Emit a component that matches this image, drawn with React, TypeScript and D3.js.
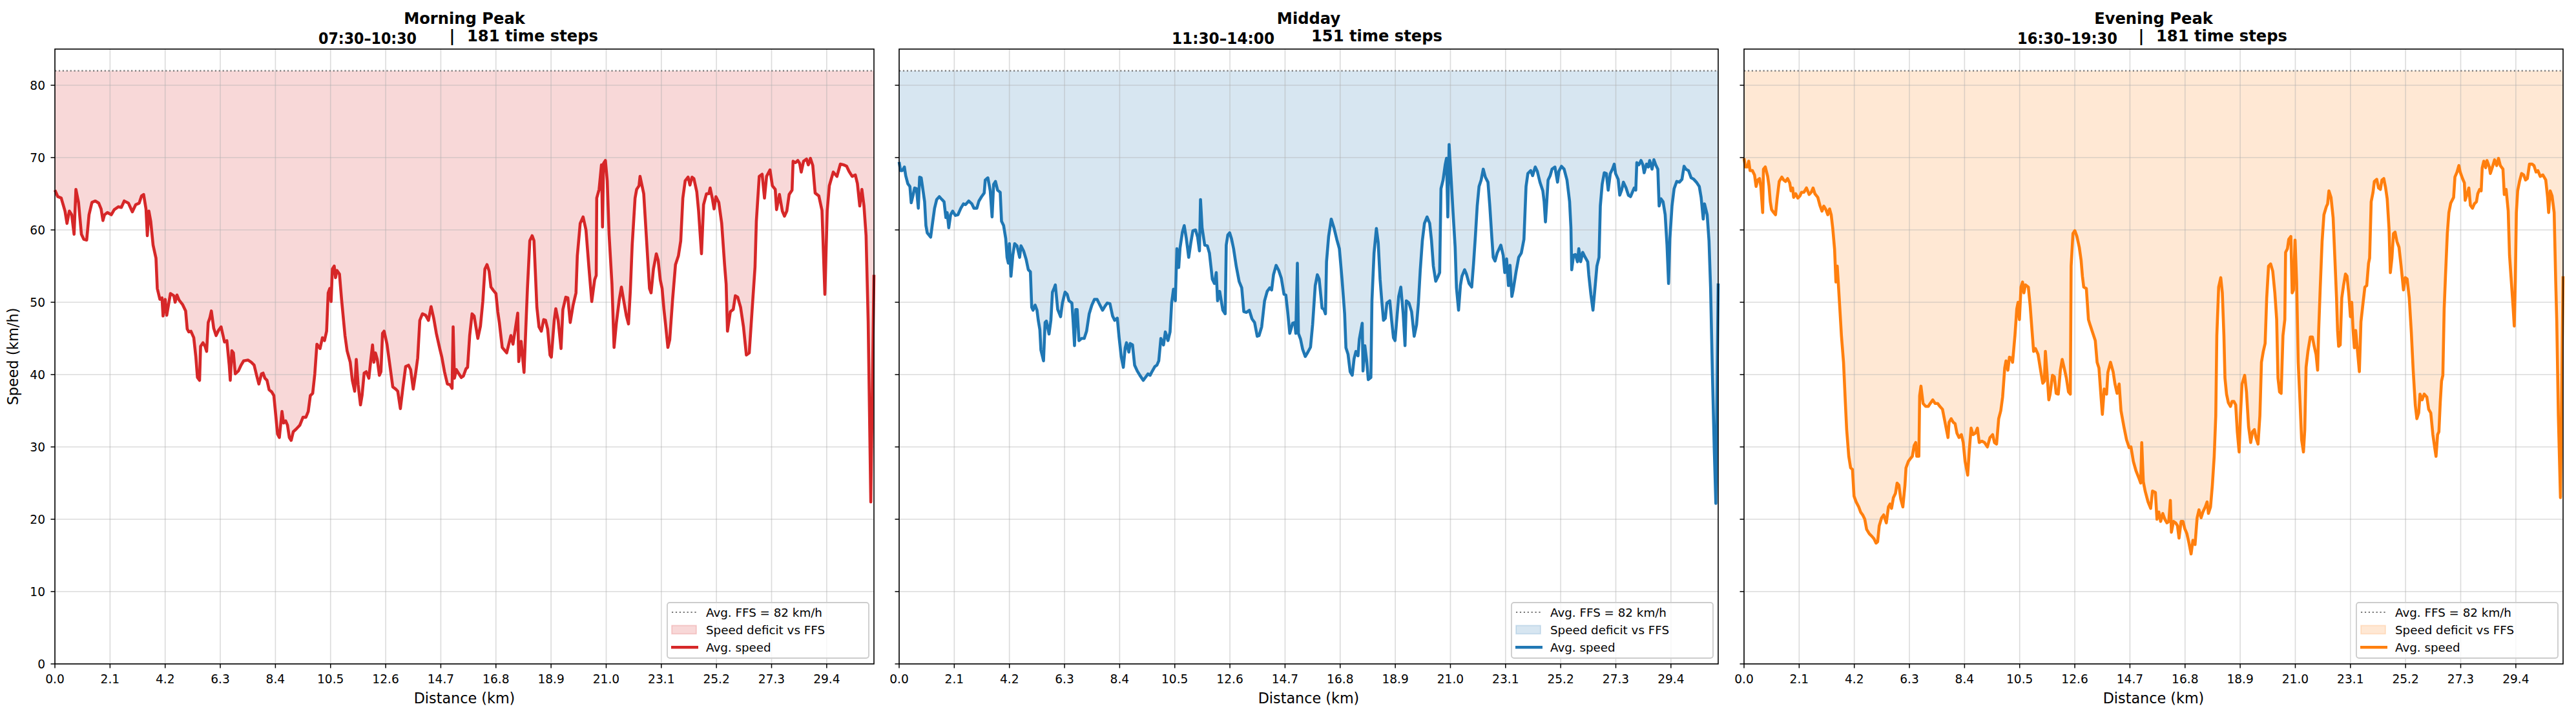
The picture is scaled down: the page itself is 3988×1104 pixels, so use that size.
import React from 'react';
import * as d3 from 'd3';

// speed profiles along the corridor: [distance km, avg speed km/h]
const morning: [number, number][] = [
  [0, 65.5], [0.11, 64.6], [0.24, 64.4], [0.385, 62.6], [0.46, 60.9], [0.55, 62.6], [0.64, 62.1], [0.73, 59.4], [0.8, 65.6], [0.9, 63.8],
  [1.01, 59.4], [1.1, 58.7], [1.21, 58.6], [1.3, 62.1], [1.41, 63.8], [1.54, 64.0], [1.67, 63.7], [1.76, 62.9], [1.83, 61.3], [1.89, 62.1],
  [2.0, 62.4], [2.15, 62.1], [2.26, 62.8], [2.42, 63.2], [2.53, 63.1], [2.64, 64.0], [2.8, 63.7], [2.95, 62.5], [3.08, 63.5], [3.21, 63.7],
  [3.3, 64.7], [3.38, 64.9], [3.47, 62.9], [3.52, 59.2], [3.58, 62.6], [3.65, 61.2], [3.74, 57.9], [3.85, 56.1], [3.9, 51.9], [4.0, 50.4],
  [4.08, 50.6], [4.12, 48.1], [4.2, 50.4], [4.26, 48.2], [4.4, 51.2], [4.53, 50.9], [4.58, 50], [4.65, 51], [4.73, 50.3], [4.86, 49.7],
  [4.98, 48.8], [5.04, 46.3], [5.1, 45.9], [5.18, 46], [5.29, 45.1], [5.37, 42.4], [5.43, 39.6], [5.51, 39.2], [5.55, 43.9], [5.64, 44.4],
  [5.72, 43.9], [5.78, 43.2], [5.84, 47.2], [5.9, 47.8], [5.96, 48.8], [6.05, 46.4], [6.14, 45.4], [6.23, 46.1], [6.33, 46.6], [6.46, 44.5],
  [6.55, 44.7], [6.64, 41.3], [6.68, 39.2], [6.74, 43.3], [6.8, 43], [6.87, 40.1], [6.99, 40.5], [7.09, 41.3], [7.19, 41.9], [7.36, 42],
  [7.48, 41.7], [7.59, 41.3], [7.69, 39.8], [7.77, 38.7], [7.87, 40.1], [7.93, 40.2], [8.0, 39.5], [8.08, 39.2], [8.16, 37.9], [8.26, 37.6],
  [8.34, 37.1], [8.42, 34.1], [8.48, 31.8], [8.55, 31.3], [8.65, 34.9], [8.71, 33.3], [8.79, 33.6], [8.86, 33], [8.93, 31.3], [9.0, 30.9],
  [9.08, 32.1], [9.2, 32.5], [9.33, 33], [9.45, 34.1], [9.56, 34.1], [9.65, 34.9], [9.73, 37.1], [9.82, 37.4], [9.9, 40.1], [9.98, 44.2],
  [10.1, 43.6], [10.19, 45.1], [10.27, 44.7], [10.35, 46], [10.41, 51.3], [10.47, 51.9], [10.52, 50.1], [10.57, 54.6], [10.64, 55], [10.69, 53.4],
  [10.74, 54.4], [10.84, 53.9], [10.92, 50.4], [11.05, 45.4], [11.13, 43.3], [11.25, 41.7], [11.33, 39.2], [11.42, 37.7], [11.48, 42.1], [11.55, 38.6],
  [11.64, 35.8], [11.7, 37.1], [11.78, 40.2], [11.86, 40.4], [11.96, 39.5], [12.03, 41.9], [12.1, 44.1], [12.15, 41.7], [12.21, 43], [12.28, 42.1],
  [12.36, 39.9], [12.42, 40.4], [12.48, 45.7], [12.54, 46], [12.65, 44.2], [12.77, 41], [12.87, 38.3], [12.98, 38], [13.06, 37.7], [13.16, 35.3],
  [13.26, 38.3], [13.36, 41.1], [13.47, 41.3], [13.55, 40.7], [13.65, 38], [13.75, 40.4], [13.82, 42.3], [13.9, 47.5], [14.0, 48.4], [14.12, 48.2],
  [14.23, 47.5], [14.33, 49.4], [14.43, 47.8], [14.53, 45.7], [14.66, 43.6], [14.74, 42.4], [14.84, 40.4], [14.95, 38.7], [15.05, 38.6], [15.13, 38.1],
  [15.17, 46.6], [15.22, 39.5], [15.29, 40.7], [15.39, 40.1], [15.48, 39.6], [15.56, 39.8], [15.66, 40.8], [15.72, 41], [15.8, 45.4], [15.89, 48.4],
  [15.97, 48.1], [16.11, 45], [16.21, 46.7], [16.3, 50.1], [16.38, 54.6], [16.46, 55.2], [16.54, 54.3], [16.61, 52.1], [16.71, 51.6], [16.8, 51.2],
  [16.87, 48.7], [16.93, 47.2], [17.04, 43.75], [17.21, 43.0], [17.37, 45.4], [17.45, 44.2], [17.63, 48.5], [17.67, 41.8], [17.76, 44.6], [17.87, 40.3],
  [18.0, 51.9], [18.09, 58.5], [18.18, 59.2], [18.25, 58.5], [18.36, 49.3], [18.44, 46.6], [18.53, 46.0], [18.62, 47.6], [18.69, 47.5], [18.77, 46.3],
  [18.86, 42.7], [18.91, 42.4], [19.02, 47.5], [19.08, 49.1], [19.17, 47.5], [19.28, 43.6], [19.35, 49.0], [19.46, 50.7], [19.54, 50.6], [19.63, 47.2],
  [19.74, 49.6], [19.85, 51.3], [19.9, 56.4], [20.01, 60.9], [20.12, 61.8], [20.23, 60.0], [20.34, 54.9], [20.45, 50.1], [20.56, 53.1], [20.62, 53.7],
  [20.64, 64.4], [20.73, 65.6], [20.82, 69.0], [20.86, 60.4], [20.9, 69.2], [20.97, 69.6], [21.04, 66.8], [21.11, 59.4], [21.22, 52.5], [21.3, 43.75],
  [21.39, 47.2], [21.5, 50.4], [21.58, 52.1], [21.66, 50.4], [21.77, 48.1], [21.85, 47.0], [21.92, 51.6], [21.99, 57.9], [22.1, 64.4], [22.16, 65.6],
  [22.25, 66.1], [22.29, 67.4], [22.36, 66.2], [22.43, 65.0], [22.54, 58.5], [22.65, 51.9], [22.71, 51.3], [22.8, 54.6], [22.91, 56.7], [22.98, 55.8],
  [23.06, 53.1], [23.13, 51.9], [23.2, 49.0], [23.26, 47.0], [23.35, 43.75], [23.42, 44.8], [23.53, 50.4], [23.64, 55.2], [23.75, 56.4], [23.84, 58.5],
  [23.92, 64.4], [24.01, 66.8], [24.12, 67.3], [24.19, 66.2], [24.27, 67.3], [24.34, 67.1], [24.45, 65.3], [24.52, 62.6], [24.63, 56.7], [24.71, 63.5],
  [24.82, 65.0], [24.91, 65.0], [24.96, 65.8], [25.04, 64.4], [25.11, 62.9], [25.18, 64.6], [25.29, 63.8], [25.4, 60.9], [25.51, 55.2], [25.57, 52.5],
  [25.62, 46.0], [25.73, 48.7], [25.84, 49.0], [25.92, 50.9], [26.01, 50.7], [26.12, 49.3], [26.23, 46.6], [26.34, 42.7], [26.45, 43.0], [26.56, 49.0],
  [26.67, 54.9], [26.72, 61.2], [26.83, 67.4], [26.94, 67.7], [27.03, 64.4], [27.11, 67.4], [27.24, 68.3], [27.33, 66.1], [27.44, 65.6], [27.49, 62.8],
  [27.6, 64.9], [27.71, 62.6], [27.79, 61.9], [27.88, 62.6], [27.97, 64.9], [28.08, 65.5], [28.12, 69.5], [28.21, 69.3], [28.3, 69.6], [28.37, 69.2],
  [28.43, 68.0], [28.52, 69.5], [28.63, 69.8], [28.7, 69.0], [28.78, 69.9], [28.87, 68.9], [28.96, 65.1], [29.1, 64.7], [29.22, 62.7], [29.33, 51.1],
  [29.42, 62.7], [29.5, 66.1], [29.65, 68.0], [29.79, 67.4], [29.92, 69.1], [30.04, 69.0], [30.16, 68.8], [30.25, 68.1], [30.37, 67.4], [30.49, 67.6],
  [30.57, 66.4], [30.66, 63.3], [30.74, 65.6], [30.82, 63.3], [30.9, 59.2], [30.98, 47.3], [31.08, 22.4], [31.2, 53.8],
];

const midday: [number, number][] = [
  [0, 69.4], [0.05, 68.2], [0.12, 68.2], [0.2, 68.7], [0.25, 67.5], [0.33, 66.4], [0.41, 66.0], [0.46, 63.75], [0.53, 64.8], [0.59, 65.8],
  [0.66, 65.7], [0.73, 63.0], [0.78, 67.3], [0.84, 67.2], [0.9, 65.7], [0.97, 63.9], [1.02, 60.6], [1.07, 59.6], [1.2, 59.0], [1.27, 60.9],
  [1.35, 63.0], [1.43, 64.2], [1.53, 64.6], [1.63, 64.2], [1.71, 63.9], [1.78, 61.7], [1.83, 62.4], [1.89, 60.3], [1.96, 62.1], [2.04, 62.6],
  [2.14, 62.0], [2.24, 62.1], [2.35, 63.0], [2.45, 63.6], [2.53, 63.5], [2.65, 64.0], [2.77, 63.6], [2.85, 63.0], [2.96, 63.0], [3.04, 64.0],
  [3.14, 64.6], [3.24, 65.1], [3.28, 66.9], [3.38, 67.2], [3.47, 65.4], [3.54, 61.8], [3.6, 66.3], [3.67, 66.7], [3.75, 65.5], [3.85, 65.2],
  [3.9, 61.2], [3.98, 60.6], [4.06, 58.8], [4.11, 56.2], [4.16, 55.4], [4.2, 58.1], [4.26, 53.6], [4.33, 56.5], [4.4, 58.1], [4.49, 57.8],
  [4.59, 56.2], [4.64, 57.8], [4.74, 57.1], [4.84, 55.9], [4.92, 54.5], [5.0, 54.2], [5.05, 49.3], [5.1, 48.9], [5.18, 49.6], [5.25, 48.9],
  [5.3, 47.5], [5.36, 46.2], [5.4, 43.4], [5.5, 41.9], [5.56, 47.2], [5.61, 47.4], [5.71, 45.6], [5.78, 47.5], [5.84, 51.4], [5.91, 52.0],
  [5.95, 52.4], [6.04, 49.0], [6.15, 48.0], [6.22, 49.9], [6.32, 51.4], [6.4, 51.1], [6.47, 50.2], [6.58, 49.9], [6.63, 47.2], [6.68, 44.0],
  [6.73, 49.0], [6.78, 49.0], [6.85, 44.7], [6.95, 45.0], [7.05, 45.0], [7.14, 46.0], [7.24, 48.4], [7.34, 49.6], [7.44, 50.4], [7.54, 50.4],
  [7.65, 49.6], [7.75, 48.9], [7.85, 49.5], [7.93, 49.9], [8.03, 49.8], [8.13, 48.1], [8.21, 47.5], [8.31, 47.8], [8.38, 45.1], [8.46, 42.5],
  [8.54, 41.0], [8.61, 43.7], [8.66, 44.4], [8.75, 43.1], [8.8, 44.3], [8.89, 44.1], [8.97, 41.3], [9.07, 40.5], [9.17, 39.9], [9.3, 39.2],
  [9.38, 39.6], [9.48, 40.1], [9.56, 39.9], [9.63, 40.4], [9.74, 41.1], [9.82, 41.3], [9.89, 41.9], [9.97, 45.0], [10.07, 44.1], [10.14, 45.9],
  [10.24, 44.7], [10.32, 45.9], [10.38, 49.9], [10.45, 51.8], [10.52, 50.2], [10.58, 57.4], [10.65, 54.8], [10.7, 57.5], [10.79, 59.7], [10.86, 60.6],
  [10.94, 58.8], [11.03, 56.2], [11.11, 58.2], [11.19, 59.9], [11.29, 60.0], [11.37, 59.0], [11.44, 57.1], [11.48, 64.2], [11.54, 60.3], [11.64, 57.9],
  [11.74, 57.8], [11.82, 56.8], [11.93, 53.2], [12.01, 52.6], [12.08, 54.1], [12.13, 50.2], [12.21, 51.5], [12.33, 48.9], [12.42, 48.4], [12.46, 57.9],
  [12.52, 59.3], [12.59, 59.6], [12.66, 58.8], [12.74, 57.4], [12.84, 55.0], [12.95, 52.9], [13.05, 52.0], [13.13, 48.7], [13.23, 48.6], [13.34, 48.9],
  [13.44, 47.7], [13.54, 47.2], [13.64, 45.3], [13.71, 45.4], [13.81, 46.6], [13.92, 50.2], [14.02, 51.5], [14.12, 52.0], [14.19, 51.7], [14.26, 53.8],
  [14.36, 55.1], [14.46, 54.4], [14.56, 53.3], [14.66, 51.1], [14.73, 51.0], [14.8, 48.7], [14.88, 45.7], [14.99, 47.1], [15.07, 47.2], [15.11, 45.7],
  [15.17, 55.4], [15.21, 45.7], [15.29, 44.9], [15.37, 43.5], [15.47, 42.5], [15.57, 43.1], [15.67, 43.8], [15.75, 46.9], [15.85, 52.3], [15.93, 53.8],
  [16.0, 53.2], [16.11, 49.2], [16.18, 49.0], [16.24, 48.4], [16.28, 55.6], [16.36, 59.1], [16.46, 61.5], [16.57, 60.2], [16.67, 58.7], [16.77, 57.4],
  [16.87, 53.2], [16.97, 48.4], [17.02, 43.7], [17.1, 42.8], [17.18, 40.4], [17.26, 39.9], [17.33, 42.2], [17.4, 43.2], [17.48, 42.6], [17.53, 44.9],
  [17.58, 45.9], [17.64, 47.1], [17.67, 40.5], [17.74, 44.0], [17.81, 41.9], [17.87, 39.3], [17.97, 39.6], [18.01, 50.2], [18.09, 56.8], [18.18, 60.2],
  [18.25, 58.2], [18.32, 53.2], [18.38, 50.4], [18.45, 47.5], [18.52, 47.8], [18.58, 49.9], [18.69, 50.2], [18.76, 47.5], [18.83, 45.1], [18.89, 44.7],
  [18.96, 47.8], [19.03, 50.8], [19.11, 52.1], [19.2, 48.4], [19.27, 44.0], [19.32, 50.2], [19.42, 49.9], [19.52, 48.7], [19.62, 45.3], [19.71, 46.9],
  [19.78, 49.9], [19.85, 54.4], [19.93, 58.5], [20.01, 60.9], [20.11, 61.8], [20.21, 60.9], [20.28, 58.5], [20.35, 55.0], [20.44, 52.9], [20.52, 53.5],
  [20.59, 54.1], [20.64, 65.7], [20.72, 66.9], [20.8, 69.0], [20.85, 69.9], [20.9, 61.8], [20.95, 71.8], [21.03, 66.9], [21.1, 62.4], [21.18, 57.6],
  [21.23, 52.0], [21.31, 48.9], [21.38, 52.3], [21.44, 53.6], [21.54, 54.5], [21.61, 53.9], [21.71, 52.6], [21.81, 52.1], [21.88, 55.3], [21.95, 59.1],
  [22.02, 63.3], [22.09, 66.0], [22.17, 66.9], [22.25, 68.4], [22.33, 67.3], [22.43, 66.6], [22.5, 63.3], [22.58, 58.8], [22.63, 56.2], [22.7, 55.7],
  [22.78, 56.8], [22.92, 57.9], [23.01, 56.5], [23.07, 54.1], [23.14, 56.0], [23.21, 52.3], [23.27, 55.1], [23.34, 50.8], [23.39, 51.7], [23.5, 54.2],
  [23.6, 56.2], [23.7, 56.8], [23.8, 58.7], [23.88, 66.0], [23.95, 67.8], [24.06, 68.2], [24.13, 67.5], [24.23, 68.7], [24.31, 68.1], [24.41, 66.6],
  [24.52, 65.4], [24.57, 63.9], [24.62, 61.1], [24.67, 63.9], [24.72, 66.9], [24.8, 67.5], [24.87, 68.4], [24.98, 68.7], [25.08, 66.6], [25.13, 68.1],
  [25.23, 68.8], [25.33, 68.4], [25.44, 66.9], [25.54, 63.9], [25.59, 60.3], [25.62, 54.5], [25.69, 56.5], [25.76, 56.6], [25.84, 55.6], [25.89, 57.4],
  [25.96, 55.6], [26.04, 56.9], [26.12, 56.3], [26.23, 55.6], [26.27, 53.8], [26.35, 51.1], [26.43, 48.9], [26.5, 51.7], [26.58, 55.0], [26.66, 56.2],
  [26.71, 63.3], [26.78, 66.3], [26.86, 67.9], [26.94, 67.8], [27.01, 65.5], [27.09, 67.8], [27.17, 68.4], [27.24, 69.1], [27.29, 67.8], [27.39, 67.0],
  [27.45, 64.8], [27.52, 65.5], [27.59, 66.6], [27.69, 65.8], [27.78, 64.8], [27.86, 64.6], [27.93, 65.2], [28.0, 65.8], [28.06, 65.5], [28.1, 69.3],
  [28.18, 69.0], [28.26, 69.6], [28.33, 69.0], [28.38, 67.9], [28.47, 69.1], [28.54, 68.7], [28.59, 69.6], [28.68, 68.4], [28.75, 69.7], [28.82, 69.0],
  [28.9, 68.4], [28.95, 63.3], [29.02, 64.3], [29.1, 63.9], [29.18, 62.1], [29.25, 57.9], [29.31, 52.6], [29.36, 58.8], [29.44, 63.3], [29.52, 65.7],
  [29.62, 66.7], [29.72, 66.6], [29.82, 67.0], [29.9, 68.8], [29.97, 68.4], [30.07, 68.2], [30.17, 67.2], [30.27, 67.0], [30.37, 66.6], [30.48, 66.0],
  [30.55, 64.5], [30.63, 61.5], [30.68, 63.6], [30.78, 62.1], [30.85, 58.5], [30.91, 52.0], [30.98, 40.1], [31.05, 29.7], [31.11, 22.2], [31.2, 52.6],
];

const evening: [number, number][] = [
  [0, 69.9], [0.05, 68.7], [0.13, 68.7], [0.18, 69.5], [0.23, 68.2], [0.32, 68.2], [0.4, 67.6], [0.46, 66.0], [0.52, 66.9], [0.59, 67.1],
  [0.64, 66.0], [0.71, 62.4], [0.74, 68.4], [0.81, 68.7], [0.9, 67.4], [0.95, 66.1], [1.0, 63.9], [1.05, 62.8], [1.13, 62.4], [1.2, 62.1],
  [1.26, 64.3], [1.34, 66.7], [1.44, 67.3], [1.51, 66.9], [1.58, 66.7], [1.66, 67.1], [1.74, 66.5], [1.79, 65.4], [1.85, 65.8], [1.89, 64.5],
  [1.97, 65.0], [2.05, 64.4], [2.13, 64.7], [2.19, 65.2], [2.28, 65.2], [2.38, 65.8], [2.48, 64.9], [2.56, 65.2], [2.63, 65.8], [2.7, 65.0],
  [2.81, 64.5], [2.89, 63.4], [2.97, 62.6], [3.04, 63.3], [3.12, 62.8], [3.19, 62.1], [3.26, 62.9], [3.32, 62.1], [3.38, 60.2], [3.45, 57.3],
  [3.5, 52.8], [3.55, 55.0], [3.6, 52.1], [3.65, 49.1], [3.71, 45.4], [3.79, 41.7], [3.86, 36.1], [3.91, 32.4], [3.99, 28.7], [4.06, 27.1],
  [4.13, 26.9], [4.19, 23.2], [4.27, 22.4], [4.37, 21.7], [4.44, 21.0], [4.52, 20.6], [4.6, 20.0], [4.67, 18.6], [4.77, 18.0], [4.88, 17.6],
  [4.95, 17.3], [5.03, 16.7], [5.09, 16.9], [5.15, 19.1], [5.24, 20.2], [5.32, 20.6], [5.42, 19.5], [5.5, 21.7], [5.56, 22.1], [5.62, 21.5],
  [5.69, 23.0], [5.77, 23.6], [5.83, 25.0], [5.9, 24.7], [5.97, 22.8], [6.05, 21.7], [6.13, 24.7], [6.17, 27.1], [6.26, 28.0], [6.34, 28.4],
  [6.41, 28.7], [6.48, 30.2], [6.54, 30.6], [6.58, 28.7], [6.66, 28.7], [6.69, 37.1], [6.74, 38.4], [6.82, 36.0], [6.92, 35.6], [7.02, 35.6],
  [7.09, 36.0], [7.19, 36.5], [7.28, 36.0], [7.38, 36.0], [7.46, 35.6], [7.56, 35.2], [7.63, 33.9], [7.71, 32.4], [7.77, 31.3], [7.81, 33.4],
  [7.89, 33.9], [7.97, 33.4], [8.04, 33.2], [8.11, 31.9], [8.19, 31.3], [8.28, 31.7], [8.35, 30.6], [8.42, 28.0], [8.52, 26.1], [8.58, 29.5],
  [8.65, 32.6], [8.72, 31.7], [8.81, 31.9], [8.89, 32.6], [8.96, 30.6], [9.06, 30.8], [9.16, 30.6], [9.27, 30.0], [9.37, 31.3], [9.47, 31.7],
  [9.54, 30.6], [9.62, 30.4], [9.7, 33.9], [9.78, 35.0], [9.85, 36.9], [9.93, 40.9], [9.98, 41.9], [10.05, 40.6], [10.11, 42.4], [10.18, 42.3],
  [10.23, 41.7], [10.32, 45.4], [10.39, 49.1], [10.44, 50.0], [10.49, 47.6], [10.55, 52.1], [10.61, 52.8], [10.66, 51.3], [10.72, 52.4], [10.83, 52.1],
  [10.9, 49.5], [10.97, 46.1], [11.03, 43.2], [11.1, 43.6], [11.2, 42.8], [11.31, 40.3], [11.38, 38.8], [11.44, 39.1], [11.48, 43.2], [11.54, 40.3],
  [11.61, 36.5], [11.66, 37.3], [11.75, 39.9], [11.82, 39.7], [11.89, 37.4], [11.97, 37.3], [12.05, 40.6], [12.12, 42.1], [12.19, 41.0], [12.28, 39.5],
  [12.36, 37.6], [12.43, 37.3], [12.46, 55.0], [12.53, 59.5], [12.6, 59.9], [12.68, 59.1], [12.77, 57.6], [12.84, 55.8], [12.89, 53.6], [12.94, 52.1],
  [13.04, 51.9], [13.12, 47.6], [13.18, 46.9], [13.28, 45.8], [13.38, 44.7], [13.45, 41.7], [13.52, 40.9], [13.6, 36.9], [13.65, 34.5], [13.72, 38.0],
  [13.81, 37.3], [13.86, 40.3], [13.96, 41.7], [14.06, 40.4], [14.13, 38.7], [14.21, 37.4], [14.29, 38.7], [14.36, 35.0], [14.47, 32.8], [14.57, 31.0],
  [14.67, 29.9], [14.74, 30.0], [14.83, 28.0], [14.93, 26.7], [15.03, 25.8], [15.11, 25.0], [15.15, 30.6], [15.21, 25.2], [15.28, 23.9], [15.39, 22.4],
  [15.49, 21.5], [15.56, 23.9], [15.67, 23.7], [15.73, 20.0], [15.8, 21.0], [15.87, 19.7], [15.95, 20.8], [16.03, 20.0], [16.11, 19.5], [16.18, 19.7],
  [16.24, 22.6], [16.28, 18.2], [16.36, 19.7], [16.44, 19.5], [16.51, 19.1], [16.57, 17.4], [16.65, 19.7], [16.72, 19.7], [16.79, 18.7], [16.87, 18.0],
  [16.95, 16.7], [17.03, 15.2], [17.1, 17.1], [17.18, 16.5], [17.26, 20.2], [17.33, 21.3], [17.41, 20.2], [17.48, 21.0], [17.57, 21.7], [17.64, 22.4],
  [17.69, 20.8], [17.77, 21.7], [17.84, 24.7], [17.91, 28.7], [17.97, 34.3], [18.01, 45.4], [18.08, 52.1], [18.16, 53.4], [18.22, 51.3], [18.28, 45.4],
  [18.32, 39.5], [18.38, 37.3], [18.45, 36.1], [18.53, 35.6], [18.59, 36.3], [18.66, 36.3], [18.73, 35.8], [18.79, 32.1], [18.86, 29.3], [18.91, 34.3],
  [18.97, 38.7], [19.07, 39.9], [19.14, 37.6], [19.22, 32.8], [19.3, 30.6], [19.37, 32.1], [19.44, 32.4], [19.5, 31.3], [19.58, 30.4], [19.65, 34.3],
  [19.71, 41.7], [19.78, 43.2], [19.85, 44.3], [19.91, 50.6], [19.98, 55.0], [20.06, 55.3], [20.14, 54.3], [20.22, 51.3], [20.29, 47.6], [20.34, 39.5],
  [20.4, 37.6], [20.46, 37.4], [20.53, 45.4], [20.6, 47.6], [20.63, 56.9], [20.7, 57.4], [20.75, 58.7], [20.83, 59.1], [20.88, 51.3], [20.93, 51.7],
  [20.99, 58.6], [21.05, 52.8], [21.11, 41.7], [21.18, 36.1], [21.24, 31.0], [21.31, 29.3], [21.36, 32.4], [21.41, 41.0], [21.48, 43.2], [21.57, 45.2],
  [21.65, 45.2], [21.72, 43.9], [21.79, 42.8], [21.85, 40.6], [21.89, 46.1], [21.95, 52.1], [22.02, 58.4], [22.09, 62.1], [22.18, 63.2], [22.23, 63.6],
  [22.28, 65.4], [22.36, 64.5], [22.44, 61.7], [22.51, 55.8], [22.57, 50.6], [22.61, 46.1], [22.65, 43.9], [22.71, 44.1], [22.77, 50.6], [22.84, 52.4],
  [22.91, 53.9], [22.97, 53.6], [23.04, 51.0], [23.1, 48.0], [23.15, 50.0], [23.2, 46.1], [23.25, 43.7], [23.3, 46.1], [23.37, 43.2], [23.44, 40.4],
  [23.5, 47.3], [23.58, 49.9], [23.65, 52.1], [23.72, 52.3], [23.79, 55.4], [23.83, 56.1], [23.89, 63.9], [23.96, 65.2], [24.01, 66.7], [24.1, 67.0],
  [24.17, 65.8], [24.24, 65.6], [24.3, 66.9], [24.37, 67.1], [24.44, 65.8], [24.5, 64.3], [24.57, 60.2], [24.62, 54.1], [24.68, 56.1], [24.74, 59.5],
  [24.8, 59.7], [24.87, 58.4], [24.95, 57.6], [25.03, 55.0], [25.12, 51.7], [25.19, 53.4], [25.26, 53.2], [25.34, 50.6], [25.42, 45.8], [25.49, 40.6],
  [25.57, 35.8], [25.63, 33.9], [25.7, 34.7], [25.75, 37.3], [25.83, 36.5], [25.91, 37.3], [26.01, 36.9], [26.08, 35.2], [26.16, 34.7], [26.24, 31.7],
  [26.31, 29.9], [26.36, 28.7], [26.42, 31.7], [26.47, 32.1], [26.52, 36.1], [26.57, 39.1], [26.62, 39.9], [26.67, 49.1], [26.72, 53.6], [26.79, 59.5],
  [26.85, 62.4], [26.92, 63.7], [27.03, 64.5], [27.08, 67.3], [27.16, 68.0], [27.23, 68.9], [27.28, 68.0], [27.37, 67.1], [27.44, 66.5], [27.47, 64.1],
  [27.54, 64.9], [27.61, 65.8], [27.67, 63.4], [27.75, 63.0], [27.82, 63.6], [27.9, 63.9], [27.95, 65.0], [28.02, 65.6], [28.08, 65.4], [28.12, 68.6],
  [28.18, 69.5], [28.25, 68.6], [28.3, 69.6], [28.39, 68.7], [28.43, 67.8], [28.51, 68.7], [28.59, 69.7], [28.67, 68.9], [28.74, 69.9], [28.81, 68.9],
  [28.91, 68.4], [28.96, 64.9], [29.03, 65.6], [29.11, 62.6], [29.16, 56.5], [29.23, 52.8], [29.3, 49.1], [29.34, 46.7], [29.38, 52.8], [29.42, 62.4],
  [29.47, 65.4], [29.54, 66.7], [29.62, 67.8], [29.7, 67.6], [29.77, 66.9], [29.84, 67.1], [29.92, 69.1], [30.02, 69.1], [30.09, 68.9], [30.17, 68.0],
  [30.24, 68.2], [30.33, 67.4], [30.43, 67.6], [30.54, 66.9], [30.61, 64.5], [30.65, 62.4], [30.71, 65.4], [30.78, 64.7], [30.86, 62.4], [30.92, 52.8],
  [30.96, 47.3], [31.02, 34.3], [31.1, 23.0], [31.2, 53.6],
];

const periodNames = ['Morning Peak', 'Midday', 'Evening Peak'];
const periodWindows = ['07:30\u201310:30', '11:30\u201314:00', '16:30\u201319:30'];
const periodSteps = ['181 time steps', '151 time steps', '181 time steps'];
const periodPipe = [true, false, true];
const periodColors = ['#d62728', '#1f77b4', '#ff7f0e'];

const ffs = 82;
const xMax = 31.2;
const xTicks = [0, 2.1, 4.2, 6.3, 8.4, 10.5, 12.6, 14.7, 16.8, 18.9, 21.0, 23.1, 25.2, 27.3, 29.4];
const yTicks = [0, 10, 20, 30, 40, 50, 60, 70, 80];
const legendLabels = ['Avg. FFS = 82 km/h', 'Speed deficit vs FFS', 'Avg. speed'];

const series = [morning, midday, evening];

const W = 3988;
const H = 1104;
const panelLeft = [85, 1392, 2700];
const pw = 1268;
const top = 76;
const ph = 952;
const font = "'DejaVu Sans', sans-serif";

// measured title-line offsets (relative to panel centre)
const windowStart = [-226, -212, -211];
const windowLen = [152, 159, 155];

const Panel = ({ idx }: { idx: number }) => {
  const data = series[idx];
  const color = periodColors[idx];
  const x = d3.scaleLinear().domain([0, xMax]).range([0, pw]);
  const y = d3.scaleLinear().domain([0, 85]).range([ph, 0]);
  const line = d3.line<[number, number]>().x(d => x(d[0])).y(d => y(d[1]));
  const area = d3.area<[number, number]>().x(d => x(d[0])).y0(y(ffs)).y1(d => y(d[1]));
  const cx = pw / 2;
  const lx = pw - 320;
  const ly = ph - 95;

  return (
    <g transform={`translate(${panelLeft[idx]},${top})`}>
      <path d={area(data) || ''} fill={color} fillOpacity={0.18} stroke="none" />
      {xTicks.map(t => (
        <line key={'gx' + t} x1={x(t)} x2={x(t)} y1={0} y2={ph} stroke="#b0b0b0" strokeOpacity={0.45} strokeWidth={1.6} />
      ))}
      {yTicks.map(t => (
        <line key={'gy' + t} x1={0} x2={pw} y1={y(t)} y2={y(t)} stroke="#b0b0b0" strokeOpacity={0.45} strokeWidth={1.6} />
      ))}
      <line x1={0} x2={pw} y1={y(ffs)} y2={y(ffs)} stroke="#777" strokeWidth={2.2} strokeDasharray="2.2 3.7" />
      <path d={line(data) || ''} fill="none" stroke={color} strokeWidth={4.6} strokeLinejoin="round" strokeLinecap="butt" />
      <rect x={0} y={0} width={pw} height={ph} fill="none" stroke="#000" strokeWidth={1.6} />

      {xTicks.map(t => (
        <g key={'tx' + t}>
          <line x1={x(t)} x2={x(t)} y1={ph} y2={ph + 6.5} stroke="#000" strokeWidth={1.5} />
          <text x={x(t)} y={ph + 30} textAnchor="middle" fontFamily={font} fontSize={18.6} fill="#000">{t.toFixed(1)}</text>
        </g>
      ))}
      {yTicks.map(t => (
        <g key={'ty' + t}>
          <line x1={-6.5} x2={0} y1={y(t)} y2={y(t)} stroke="#000" strokeWidth={1.5} />
          {idx === 0 && (
            <text x={-15} y={y(t) + 6.7} textAnchor="end" fontFamily={font} fontSize={18.6} fill="#000">{t}</text>
          )}
        </g>
      ))}

      <text x={cx} y={ph + 61} textAnchor="middle" fontFamily={font} fontSize={22.3} fill="#000">Distance (km)</text>
      {idx === 0 && (
        <text transform={`translate(${-57},${ph / 2}) rotate(-90)`} textAnchor="middle" fontFamily={font} fontSize={22.3} fill="#000">Speed (km/h)</text>
      )}

      <text x={cx} y={36.5 - top} textAnchor="middle" fontFamily={font} fontWeight="bold" fontSize={24.2} fill="#000">{periodNames[idx]}</text>
      <text x={cx + windowStart[idx]} y={68 - top} fontFamily="'DejaVu Sans Condensed', 'DejaVu Sans', sans-serif" fontStretch="condensed" fontWeight="bold" fontSize={25} fill="#000" textLength={windowLen[idx]} lengthAdjust="spacingAndGlyphs">{periodWindows[idx]}</text>
      {periodPipe[idx] && (
        <text x={cx - 19} y={64 - top} textAnchor="middle" fontFamily={font} fontWeight="bold" fontSize={24.2} fill="#000">|</text>
      )}
      <text x={cx + 4} y={64 - top} fontFamily={font} fontWeight="bold" fontSize={24.2} fill="#000">{periodSteps[idx]}</text>

      <g transform={`translate(${lx},${ly})`}>
        <rect x={0} y={0} width={312} height={86} rx={4} fill="#fff" fillOpacity={0.8} stroke="#cccccc" strokeWidth={1.8} />
        <line x1={7} x2={47} y1={15} y2={15} stroke="#777" strokeWidth={2.2} strokeDasharray="2.2 3.7" />
        <rect x={7} y={35.5} width={38} height={13} fill={color} fillOpacity={0.18} stroke={color} strokeOpacity={0.18} strokeWidth={1.8} />
        <line x1={6} x2={48} y1={69.3} y2={69.3} stroke={color} strokeWidth={4.6} />
        {legendLabels.map((l, i) => (
          <text key={l} x={60} y={22 + i * 26.8} fontFamily={font} fontSize={18.3} fill="#000">{l}</text>
        ))}
      </g>
    </g>
  );
};

export default function App() {
  return (
    <svg width={W} height={H} viewBox={`0 0 ${W} ${H}`} style={{ position: 'absolute', left: 0, top: 0, background: '#fff' }}>
      <rect width={W} height={H} fill="#fff" />
      {[0, 1, 2].map(i => <Panel key={i} idx={i} />)}
    </svg>
  );
}
